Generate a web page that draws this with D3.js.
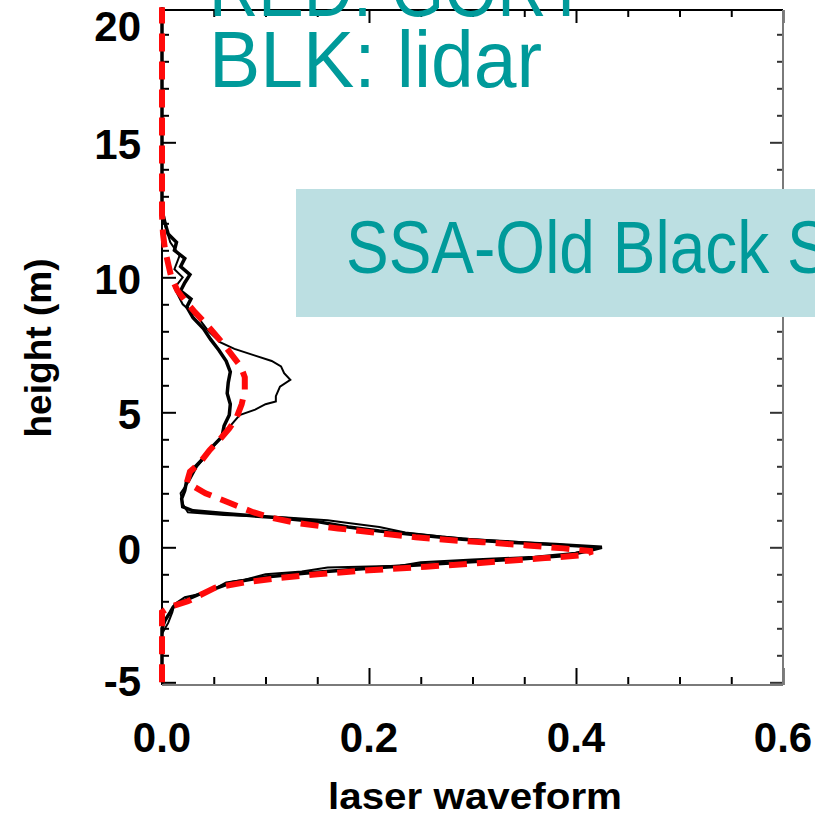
<!DOCTYPE html>
<html>
<head>
<meta charset="utf-8">
<script src="https://cdn.jsdelivr.net/npm/d3@7"></script>
<style>
body { margin: 0; background: #fff; }
svg { display: block; }
</style>
</head>
<body>
<svg id="chart" width="815" height="813"></svg>
<script>
/*--- data ---*/
// GORT model waveform (red dashed)
var gortHeight = [-5, -2.4, -2.2, -2.0, -1.75, -1.5, -1.3, -1.15, -1.0, -0.85, -0.72, -0.6, -0.5, -0.4, -0.3, -0.15,
	-0.04, 0.07, 0.19, 0.26, 0.37, 0.52, 0.7, 0.9, 1.1, 1.3, 1.65, 2.0, 2.4, 2.8, 3.1, 3.6, 4.0, 4.4, 4.8, 5.3,
	5.8, 6.3, 6.7, 7.1, 7.5, 7.9, 8.3, 8.7, 9.1, 9.5, 10.0, 10.5, 11.0, 11.6, 12.3, 20];
var gortWave = [0, 0, 0.008, 0.025, 0.038, 0.051, 0.08, 0.11, 0.15, 0.2, 0.255, 0.3, 0.335, 0.37, 0.405, 0.416,
	0.388, 0.353, 0.31, 0.28, 0.245, 0.21, 0.17, 0.13, 0.105, 0.088, 0.065, 0.042, 0.024, 0.027, 0.036, 0.046, 0.056, 0.065, 0.072, 0.077,
	0.08, 0.08, 0.076, 0.068, 0.06, 0.051, 0.042, 0.032, 0.023, 0.015, 0.009, 0.006, 0.003, 0.001, 0, 0];

// lidar waveform, first trace (thick black)
var lidarAHeight = [-5, -3.0, -2.7, -2.4, -2.2, -2.0, -1.75, -1.55, -1.3, -1.1, -0.95, -0.8, -0.68, -0.55, -0.42, -0.3,
	-0.15, 0.0, 0.1, 0.2, 0.3, 0.45, 0.6, 0.75, 0.95, 1.1, 1.25, 1.35, 1.5, 1.8, 2.1, 2.5, 2.9, 3.3, 3.7, 4.1,
	4.5, 4.9, 5.3, 5.7, 6.1, 6.5, 6.9, 7.3, 7.7, 8.1, 8.5, 8.9, 9.2, 9.5, 9.8, 10.1, 10.4, 10.7, 11.0, 11.3,
	11.6, 12.0, 12.5, 20];
var lidarAWave = [0, 0, 0.003, 0.008, 0.011, 0.02, 0.035, 0.05, 0.068, 0.1, 0.14, 0.19, 0.235, 0.29, 0.35, 0.39,
	0.41, 0.425, 0.38, 0.33, 0.29, 0.25, 0.21, 0.18, 0.15, 0.11, 0.06, 0.03, 0.02, 0.019, 0.022, 0.024, 0.03, 0.04, 0.048, 0.058,
	0.06, 0.065, 0.066, 0.063, 0.064, 0.066, 0.062, 0.055, 0.047, 0.04, 0.03, 0.024, 0.028, 0.018, 0.022, 0.027, 0.018, 0.022, 0.012, 0.014,
	0.006, 0.003, 0, 0];

// lidar waveform, second trace (thin black)
var lidarBHeight = [-5, -3.2, -2.8, -2.4, -2.1, -1.85, -1.7, -1.55, -1.3, -1.2, -1.0, -0.9, -0.75, -0.68, -0.55, -0.45,
	-0.35, -0.2, -0.05, 0.05, 0.2, 0.3, 0.4, 0.55, 0.75, 0.9, 1.0, 1.1, 1.2, 1.3, 1.6, 2.0, 2.5, 3.0, 3.5, 4.0,
	4.5, 4.9, 5.1, 5.3, 5.4, 5.6, 5.95, 6.2, 6.45, 6.7, 6.9, 7.1, 7.35, 7.6, 8.0, 8.5, 9.0, 9.3, 9.6, 10.0,
	10.3, 10.8, 11.3, 11.8, 12.3, 20];
var lidarBWave = [0, 0, 0.006, 0.01, 0.012, 0.022, 0.04, 0.05, 0.062, 0.08, 0.1, 0.135, 0.16, 0.23, 0.25, 0.3,
	0.36, 0.4, 0.42, 0.405, 0.345, 0.3, 0.27, 0.235, 0.21, 0.18, 0.16, 0.12, 0.06, 0.025, 0.02, 0.018, 0.027, 0.034, 0.045, 0.055,
	0.066, 0.075, 0.09, 0.1, 0.11, 0.11, 0.114, 0.124, 0.118, 0.115, 0.106, 0.09, 0.07, 0.056, 0.045, 0.035, 0.02, 0.016, 0.012, 0.02,
	0.012, 0.017, 0.008, 0.004, 0, 0];

// axes
var xTicks = [0, 0.2, 0.4, 0.6];
var xTickLabels = ["0.0", "0.2", "0.4", "0.6"];
var xMinorTicks = [0.05, 0.1, 0.15, 0.25, 0.3, 0.35, 0.45, 0.5, 0.55];
var yTicks = [-5, 0, 5, 10, 15, 20];
var yTickLabels = ["-5", "0", "5", "10", "15", "20"];
var yMinorTicks = [-4, -3, -2, -1, 1, 2, 3, 4, 6, 7, 8, 9, 11, 12, 13, 14, 16, 17, 18, 19];
var xTitle = "laser waveform";
var yTitle = "height (m)";

// annotations
var legendLines = ["RED: GORT", "BLK: lidar"];
var siteName = "SSA-Old Black Spruce";

/*--- chart ---*/
var teal = "#009a9a";
var boxLeft = 162, boxRight = 783, boxTop = 10, boxBottom = 685;

var svg = d3.select("#chart");

var x = d3.scaleLinear().domain([0, 0.6]).range([boxLeft, boxRight]);
var y = d3.scaleLinear().domain([-5.1, 19.9]).range([boxBottom, boxTop]);

//tick marks, all pointing into the box
function tickMarks(axisFn, scale, values, size, pos, color) {
	var g = svg.append("g")
		.attr("transform", pos)
		.call(axisFn(scale).tickValues(values).tickSizeInner(size).tickSizeOuter(0).tickFormat(""));
	g.select(".domain").remove();
	g.selectAll("line").attr("stroke", color).attr("stroke-width", 2);
	return g;
}
var yMajorIn = yTicks.filter(function (v) { return y(v) >= boxTop; });

tickMarks(d3.axisBottom, x, xTicks, -17, "translate(0," + boxBottom + ")", "#000");
tickMarks(d3.axisBottom, x, xMinorTicks, -8, "translate(0," + boxBottom + ")", "#000");
tickMarks(d3.axisTop, x, xTicks, -13, "translate(0," + boxTop + ")", "#000");
tickMarks(d3.axisTop, x, xMinorTicks, -7, "translate(0," + boxTop + ")", "#000");
tickMarks(d3.axisLeft, y, yMajorIn, -14, "translate(" + boxLeft + ",0)", "#000");
tickMarks(d3.axisLeft, y, yMinorTicks, -7, "translate(" + boxLeft + ",0)", "#000");
tickMarks(d3.axisRight, y, yMajorIn, -13, "translate(" + boxRight + ",0)", "#333");
tickMarks(d3.axisRight, y, yMinorTicks, -6, "translate(" + boxRight + ",0)", "#333");

//frame
svg.append("line").attr("x1", boxLeft).attr("x2", boxRight).attr("y1", boxTop).attr("y2", boxTop)
	.attr("stroke", "#000").attr("stroke-width", 2);
svg.append("line").attr("x1", boxLeft).attr("x2", boxLeft).attr("y1", boxTop).attr("y2", boxBottom)
	.attr("stroke", "#000").attr("stroke-width", 2);
svg.append("line").attr("x1", boxLeft).attr("x2", boxRight).attr("y1", boxBottom).attr("y2", boxBottom)
	.attr("stroke", "#7a7a7a").attr("stroke-width", 2);
svg.append("line").attr("x1", boxRight).attr("x2", boxRight).attr("y1", boxTop).attr("y2", boxBottom)
	.attr("stroke", "#7a7a7a").attr("stroke-width", 2);

//tick labels
svg.append("g").selectAll("text")
	.data(xTicks)
	.enter().append("text")
	.attr("x", function (d) { return x(d); })
	.attr("y", 752)
	.attr("text-anchor", "middle")
	.style("font-family", "'Liberation Sans', Arial, sans-serif")
	.style("font-weight", "bold")
	.style("font-size", "42px")
	.text(function (d, i) { return xTickLabels[i]; });

svg.append("g").selectAll("text")
	.data(yTicks)
	.enter().append("text")
	.attr("x", 141)
	.attr("y", function (d) { return Math.min(Math.max(y(d) + 17, 41), 696); })
	.attr("text-anchor", "end")
	.style("font-family", "'Liberation Sans', Arial, sans-serif")
	.style("font-weight", "bold")
	.style("font-size", "42px")
	.text(function (d, i) { return yTickLabels[i]; });

//axis titles
svg.append("text")
	.attr("x", 328).attr("y", 809)
	.attr("textLength", 294).attr("lengthAdjust", "spacingAndGlyphs")
	.style("font-family", "'Liberation Sans', Arial, sans-serif")
	.style("font-weight", "bold")
	.style("font-size", "37px")
	.text(xTitle);

svg.append("text")
	.attr("transform", "translate(51,348) rotate(-90)")
	.attr("text-anchor", "middle")
	.attr("textLength", 179).attr("lengthAdjust", "spacingAndGlyphs")
	.style("font-family", "'Liberation Sans', Arial, sans-serif")
	.style("font-weight", "bold")
	.style("font-size", "37px")
	.text(yTitle);

//curves
var wave = d3.line()
	.x(function (d) { return x(d[1]); })
	.y(function (d) { return y(d[0]); });

svg.append("path")
	.datum(d3.zip(lidarBHeight, lidarBWave))
	.attr("d", wave)
	.style("fill", "none")
	.style("stroke", "#000")
	.style("stroke-width", "2");

svg.append("path")
	.datum(d3.zip(lidarAHeight, lidarAWave))
	.attr("d", wave)
	.style("fill", "none")
	.style("stroke", "#000")
	.style("stroke-width", "3.5");

svg.append("path")
	.datum(d3.zip(gortHeight, gortWave))
	.attr("d", wave)
	.style("fill", "none")
	.style("stroke", "#ff0a0a")
	.style("stroke-width", "6")
	.style("stroke-dasharray", "18,10");

//annotations
svg.append("text")
	.attr("x", 209).attr("y", 16)
	.attr("textLength", 378).attr("lengthAdjust", "spacingAndGlyphs")
	.style("font-family", "'Liberation Sans', Arial, sans-serif")
	.style("font-size", "79px")
	.style("fill", teal)
	.text(legendLines[0]);

svg.append("text")
	.attr("x", 209).attr("y", 87)
	.attr("textLength", 333).attr("lengthAdjust", "spacingAndGlyphs")
	.style("font-family", "'Liberation Sans', Arial, sans-serif")
	.style("font-size", "79px")
	.style("fill", teal)
	.text(legendLines[1]);

svg.append("rect")
	.attr("x", 296).attr("y", 189)
	.attr("width", 600).attr("height", 128)
	.style("fill", "#bcdfe2");

svg.append("text")
	.attr("transform", "translate(346,273) scale(0.865,1)")
	.style("font-family", "'Liberation Sans', Arial, sans-serif")
	.style("font-size", "74px")
	.style("fill", teal)
	.text(siteName);
</script>
</body>
</html>
